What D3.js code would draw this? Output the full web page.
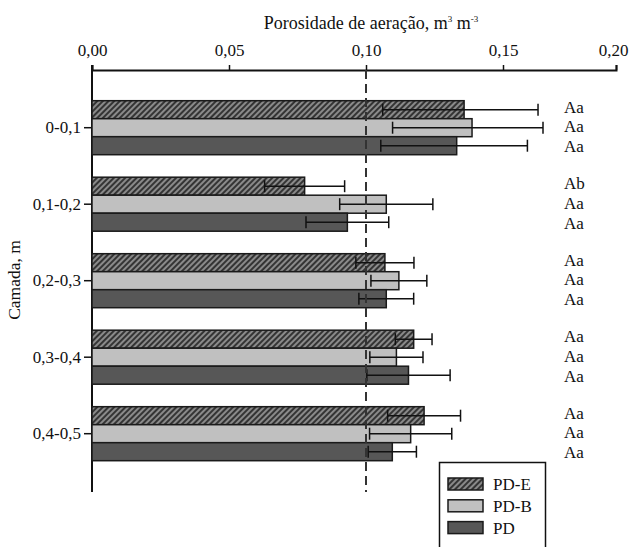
<!DOCTYPE html>
<html>
<head>
<meta charset="utf-8">
<script src="https://cdn.jsdelivr.net/npm/d3@7"></script>
<style>
  body { margin: 0; background: #fff; }
</style>
</head>
<body>
<div id="container"></div>
<script>
// categories (depth layers) and treatments
const layers = ["0-0,1", "0,1-0,2", "0,2-0,3", "0,3-0,4", "0,4-0,5"];
const treatments = ["PD-E", "PD-B", "PD"];

// mean aeration porosity per layer, one array per treatment
const pdE = [0.1358, 0.0776, 0.1069, 0.1174, 0.1212];
const pdB = [0.1387, 0.1074, 0.1120, 0.1111, 0.1163];
const pd  = [0.1331, 0.0932, 0.1074, 0.1155, 0.1096];

// error bar half widths
const errE = [0.0297, 0.0146, 0.0106, 0.0067, 0.0133];
const errB = [0.0290, 0.0170, 0.0102, 0.0097, 0.0150];
const errP = [0.0277, 0.0151, 0.0100, 0.0152, 0.0088];

// letters shown at the right
const lettersE = ["Aa", "Ab", "Aa", "Aa", "Aa"];
const lettersB = ["Aa", "Aa", "Aa", "Aa", "Aa"];
const lettersP = ["Aa", "Aa", "Aa", "Aa", "Aa"];

const xTicks = [0, 0.05, 0.10, 0.15, 0.20];
const refLine = 0.10;

const width = 630, height = 547;
const FONT = "\"Times New Roman\", \"Liberation Serif\", \"DejaVu Serif\", \"Noto Serif\", Georgia, serif";

const svg = d3.select("#container").append("svg")
    .attr("width", width)
    .attr("height", height)
    .attr("font-family", FONT);

const defs = svg.append("defs");
const pat = defs.append("pattern")
    .attr("id", "hatch")
    .attr("patternUnits", "userSpaceOnUse")
    .attr("width", 4)
    .attr("height", 4)
    .attr("patternTransform", "rotate(45)");
pat.append("rect").attr("width", 4).attr("height", 4).attr("fill", "#8a8a8a");
pat.append("line").attr("x1", 1).attr("y1", 0).attr("x2", 1).attr("y2", 4)
    .attr("stroke", "#1e1e1e").attr("stroke-width", 1.6);

const fills = ["url(#hatch)", "#c0c0c0", "#575757"];

let x = d3.scaleLinear()
    .domain([0, 0.15, 0.20])
    .range([92, 503, 616]);

let y = d3.scaleBand()
    .domain(layers)
    .range([100.7, 460.7])
    .paddingInner(0.294)
    .paddingOuter(0);

let sub = d3.scaleBand()
    .domain(treatments)
    .range([0, y.bandwidth()]);

const rows = layers.map((l, i) => ({
    layer: l,
    vals: [
        { t: "PD-E", v: pdE[i], e: errE[i], lab: lettersE[i] },
        { t: "PD-B", v: pdB[i], e: errB[i], lab: lettersB[i] },
        { t: "PD",   v: pd[i],  e: errP[i], lab: lettersP[i] }
    ]
}));

// top axis
const gx = svg.append("g")
    .attr("transform", "translate(0,70)")
    .call(d3.axisTop(x).tickValues(xTicks).tickSize(5).tickPadding(9)
        .tickFormat(d => d3.format(".2f")(d).replace(".", ",")));
gx.attr("font-family", FONT).attr("font-size", 17);
gx.select(".domain").attr("stroke", "#111").attr("stroke-width", 2);
gx.selectAll(".tick line").attr("stroke", "#111").attr("stroke-width", 1.5);
gx.selectAll(".tick text").attr("fill", "#111");
// last label sits against the right edge
gx.selectAll(".tick text").filter(d => d === 0.20)
    .attr("text-anchor", "end").attr("x", 12);

// left axis
const gy = svg.append("g")
    .attr("transform", "translate(92,0)")
    .call(d3.axisLeft(y).tickSize(8).tickPadding(3));
gy.attr("font-family", FONT).attr("font-size", 17);
gy.select(".domain").remove();
gy.selectAll(".tick line").attr("stroke", "#111").attr("stroke-width", 1.5);
gy.selectAll(".tick text").attr("fill", "#111");

svg.append("line")
    .attr("x1", 92).attr("x2", 92)
    .attr("y1", 65).attr("y2", 492)
    .attr("stroke", "#111").attr("stroke-width", 2);

// bars
const groups = svg.append("g").selectAll("g")
    .data(rows)
    .enter().append("g")
    .attr("transform", d => "translate(0," + y(d.layer) + ")");

groups.selectAll("rect")
    .data(d => d.vals)
    .enter().append("rect")
    .attr("x", x(0))
    .attr("y", d => sub(d.t))
    .attr("height", sub.bandwidth())
    .attr("width", d => x(d.v) - x(0))
    .attr("fill", (d, i) => fills[i])
    .attr("stroke", "#1a1a1a")
    .attr("stroke-width", 1.5);

// reference dashed line
svg.append("line")
    .attr("x1", x(refLine)).attr("x2", x(refLine))
    .attr("y1", 70).attr("y2", 492)
    .attr("stroke", "#333")
    .attr("stroke-width", 2)
    .attr("stroke-dasharray", "9,5");

// error bars
const eb = groups.selectAll("g.err")
    .data(d => d.vals)
    .enter().append("g")
    .attr("class", "err")
    .attr("transform", d => "translate(0," + (sub(d.t) + sub.bandwidth() / 2) + ")");

eb.append("line")
    .attr("x1", d => x(d.v - d.e)).attr("x2", d => x(d.v + d.e))
    .attr("y1", 0).attr("y2", 0)
    .attr("stroke", "#111").attr("stroke-width", 1.5);
eb.append("line")
    .attr("x1", d => x(d.v - d.e)).attr("x2", d => x(d.v - d.e))
    .attr("y1", -6).attr("y2", 6)
    .attr("stroke", "#111").attr("stroke-width", 1.5);
eb.append("line")
    .attr("x1", d => x(d.v + d.e)).attr("x2", d => x(d.v + d.e))
    .attr("y1", -6).attr("y2", 6)
    .attr("stroke", "#111").attr("stroke-width", 1.5);

// letters
groups.selectAll("text.lab")
    .data(d => d.vals)
    .enter().append("text")
    .attr("class", "lab")
    .attr("x", 564)
    .attr("y", (d, i) => sub(d.t) + sub.bandwidth() / 2 + 3 + i * 1.8)
    .attr("font-size", 17)
    .attr("fill", "#111")
    .text(d => d.lab);

// titles
const title = svg.append("text")
    .attr("x", 371)
    .attr("y", 29)
    .attr("text-anchor", "middle")
    .attr("font-size", 18)
    .attr("fill", "#111");
title.append("tspan").text("Porosidade de aeração, m");
title.append("tspan").attr("dy", -7).attr("font-size", 9).text("3");
title.append("tspan").attr("dy", 7).text(" m");
title.append("tspan").attr("dy", -7).attr("font-size", 9).text("-3");

svg.append("text")
    .attr("transform", "translate(20,280) rotate(-90)")
    .attr("text-anchor", "middle")
    .attr("font-size", 17.5)
    .attr("fill", "#111")
    .text("Camada, m");

// legend
const leg = svg.append("g");
leg.append("rect")
    .attr("x", 439.5).attr("y", 462.5)
    .attr("width", 106).attr("height", 90)
    .attr("fill", "#fff").attr("stroke", "#111").attr("stroke-width", 1.5);

const li = leg.selectAll("g.item")
    .data(treatments)
    .enter().append("g")
    .attr("class", "item")
    .attr("transform", (d, i) => "translate(448," + (478 + i * 21.8) + ")");
li.append("rect")
    .attr("width", 35).attr("height", 12)
    .attr("fill", (d, i) => fills[i])
    .attr("stroke", "#1a1a1a").attr("stroke-width", 1.5);
li.append("text")
    .attr("x", 45).attr("y", 12)
    .attr("font-size", 17)
    .attr("fill", "#111")
    .text(d => d);
</script>
</body>
</html>
